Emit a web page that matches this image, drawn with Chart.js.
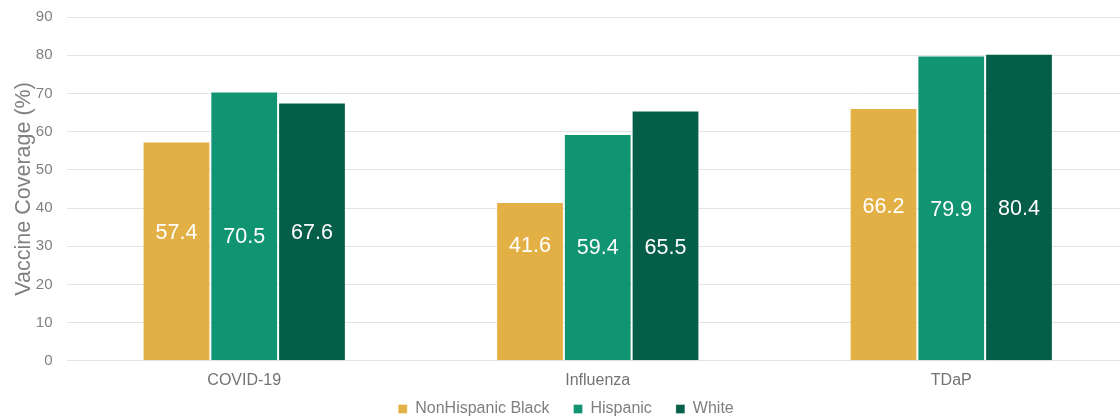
<!DOCTYPE html>
<html><head><meta charset="utf-8">
<script src="https://cdn.jsdelivr.net/npm/chart.js@4/dist/chart.umd.min.js"></script>
<style>
html,body{margin:0;padding:0;background:#fff;overflow:hidden;}
#wrap{width:1128px;height:420px;position:relative;}
</style></head><body>
<div id="wrap"><canvas id="c"></canvas></div>
<script>
const categories = ["COVID-19", "Influenza", "TDaP"];
const seriesNames = ["NonHispanic Black", "Hispanic", "White"];
const nonHispanicBlack = [57.4, 41.6, 66.2];
const hispanic = [70.5, 59.4, 79.9];
const white = [67.6, 65.5, 80.4];
// vertical position (in axis units) where each value label sits
const labelAtBlack = [33.5, 30.1, 40.3];
const labelAtHispanic = [32.4, 29.6, 39.5];
const labelAtWhite = [33.5, 29.6, 39.8];
const colors = ["#E3B046", "#119472", "#055E48"];
const yMin = 0, yMax = 90, yStep = 10;

const FONT = '"Liberation Sans", Arial, sans-serif';
const LEGEND_HEIGHT = 20;
const LEGEND_SHIFT = 23;

const valueLabels = {
  id: 'valueLabels',
  afterDatasetsDraw(chart) {
    const ctx = chart.ctx;
    const ys = chart.scales.y;
    ctx.save();
    ctx.fillStyle = '#ffffff';
    ctx.font = '21.5px ' + FONT;
    ctx.textAlign = 'center';
    ctx.textBaseline = 'middle';
    chart.data.datasets.forEach((ds, i) => {
      const meta = chart.getDatasetMeta(i);
      meta.data.forEach((bar, j) => {
        ctx.fillText(ds.data[j].toFixed(1), bar.x, ys.getPixelForValue(ds.labelAt[j]));
      });
    });
    ctx.restore();
  }
};

const legendPlacement = {
  id: 'legendPlacement',
  beforeUpdate(chart) {
    const lg = chart.legend;
    if (lg && !lg._fixedFit) {
      const orig = lg.fit;
      lg.fit = function () { orig.call(this); this.height = LEGEND_HEIGHT; };
      lg._fixedFit = true;
    }
  },
  afterLayout(chart) {
    const lg = chart.legend;
    if (lg) { lg.top -= LEGEND_SHIFT; lg.height = lg.bottom - lg.top; }
  }
};

new Chart(document.getElementById('c'), {
  type: 'bar',
  data: {
    labels: categories,
    datasets: [
      {label: seriesNames[0], data: nonHispanicBlack, labelAt: labelAtBlack, backgroundColor: colors[0]},
      {label: seriesNames[1], data: hispanic, labelAt: labelAtHispanic, backgroundColor: colors[1]},
      {label: seriesNames[2], data: white, labelAt: labelAtWhite, backgroundColor: colors[2]}
    ].map(d => Object.assign(d, {borderColor: 'rgba(255,255,255,0.35)', borderWidth: 1, barPercentage: 1, categoryPercentage: 0.575}))
  },
  options: {
    responsive: true,
    maintainAspectRatio: false,
    animation: false,
    layout: {padding: {top: 0, left: 4, right: 0, bottom: 0}},
    plugins: {
      legend: {
        position: 'bottom',
        labels: {
          boxWidth: 9, boxHeight: 9, padding: 24,
          color: '#7f7f7f',
          font: {family: FONT, size: 16}
        }
      },
      tooltip: {enabled: false}
    },
    scales: {
      x: {
        grid: {display: false, drawTicks: false},
        border: {display: false},
        ticks: {color: '#737373', padding: 10, font: {family: FONT, size: 16}}
      },
      y: {
        min: yMin, max: yMax,
        ticks: {stepSize: yStep, color: '#808080', padding: 15, font: {family: FONT, size: 15}},
        grid: {color: '#e3e3e3', lineWidth: 1, drawTicks: false},
        border: {display: false},
        title: {display: true, text: 'Vaccine Coverage (%)', color: '#808080', padding: {top: 7, bottom: -16},
                font: {family: FONT, size: 21.5}},
        afterFit(scale) { scale.paddingTop = 17; scale.paddingBottom = 0; }
      }
    }
  },
  plugins: [valueLabels, legendPlacement]
});
</script>
</body></html>
